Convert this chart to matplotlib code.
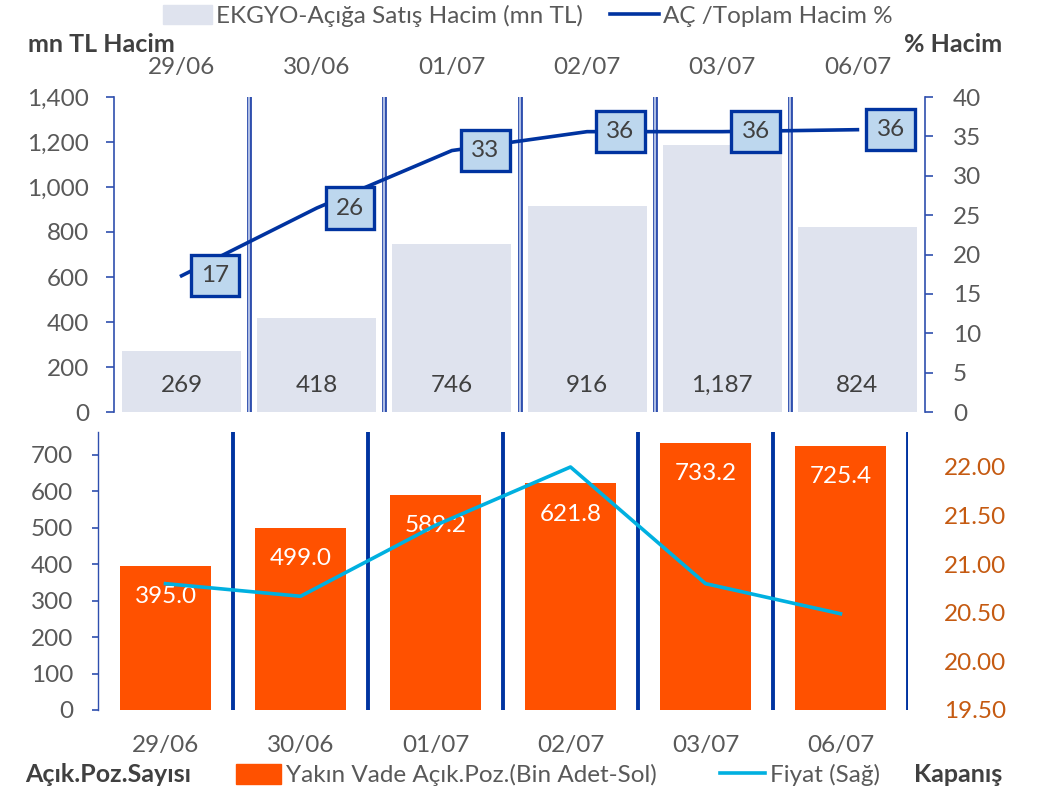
import matplotlib
matplotlib.use("Agg")
import matplotlib.pyplot as plt
import matplotlib.transforms as mtransforms
from matplotlib.patches import Patch
from matplotlib.lines import Line2D
import numpy as np

plt.rcParams['font.family'] = ['Lato', 'DejaVu Sans']

# data
dates = ["29/06", "30/06", "01/07", "02/07", "03/07", "06/07"]
short_volume = [269, 418, 746, 916, 1187, 824]          # mn TL
short_pct = [17.3, 25.9, 33.2, 35.6, 35.6, 35.85]       # % of total volume
open_pos = [395.0, 499.0, 589.2, 621.8, 733.2, 725.4]   # bin adet
price = [20.80, 20.67, 21.40, 22.00, 20.80, 20.49]      # closing price

GRAY = "#595959"
DARK = "#404040"
NAVY = "#0033a0"
SEP = "#2f4fae"
LAV = "#dfe3ee"
ORANGE = "#ff5100"
CYAN = "#00b0e0"
BROWN = "#c55a11"
FS = 17.5

W, H = 1039, 794
fig = plt.figure(figsize=(W / 100, H / 100), dpi=100)


def box(l, t, r, b):
    return [l / W, 1 - b / H, (r - l) / W, (b - t) / H]


x = np.arange(len(dates))

# ---------------- top panel ----------------
ax1 = fig.add_axes(box(114, 97, 925, 412))
ax1.bar(x, short_volume, width=0.88, color=LAV, zorder=1)
ax1.set_xlim(-0.5, len(dates) - 0.5)
ax1.set_ylim(0, 1400)
ax1.set_yticks(range(0, 1401, 200))
ax1.set_yticklabels([f"{v:,}" for v in range(0, 1401, 200)])
ax1.xaxis.tick_top()
ax1.set_xticks(x)
ax1.set_xticklabels(dates)
ax1.tick_params(axis='x', length=0, pad=14, labelsize=FS, colors=GRAY)
ax1.tick_params(axis='y', length=6, width=1.2, color=SEP, pad=12,
                labelsize=FS, labelcolor=GRAY, direction='out')
for s in ['top', 'bottom', 'right']:
    ax1.spines[s].set_visible(False)
ax1.spines['left'].set_color(SEP)
ax1.spines['left'].set_linewidth(1.2)

lbl_tr = mtransforms.blended_transform_factory(ax1.transData, ax1.transAxes)
for xi, v in zip(x, short_volume):
    ax1.text(xi, 0.085, f"{v:,}", transform=lbl_tr, ha='center', va='center',
             fontsize=FS, color=DARK, zorder=5)

for xs in np.arange(0.5, len(dates) - 0.5, 1):
    ax1.axvline(xs, color=SEP, lw=3.5, zorder=2)
    ax1.axvline(xs, color="#c8d4f0", lw=1.2, zorder=2)

ax1b = ax1.twinx()
ax1b.plot(x, short_pct, color=NAVY, lw=2.6, zorder=3)
ax1b.set_ylim(0, 40)
ax1b.set_yticks(range(0, 41, 5))
ax1b.tick_params(axis='y', length=6, width=1.2, color=SEP, pad=14,
                 labelsize=FS, labelcolor=GRAY, direction='out')
for s in ['top', 'bottom', 'left']:
    ax1b.spines[s].set_visible(False)
ax1b.spines['right'].set_color(SEP)
ax1b.spines['right'].set_linewidth(1.2)
for xi, v in zip(x, short_pct):
    ax1b.annotate(f"{v:.0f}", (xi, v), xytext=(24, 0), textcoords='offset points',
                  ha='center', va='center', fontsize=FS, color=DARK, zorder=6,
                  bbox=dict(boxstyle='square,pad=0.42', fc="#bdd7ee", ec=NAVY, lw=2.4))

# ---------------- bottom panel ----------------
ax2 = fig.add_axes(box(98, 432, 908, 710))
ax2.bar(x, open_pos, width=0.67, color=ORANGE, zorder=1)
ax2.set_xlim(-0.5, len(dates) - 0.5)
ax2.set_ylim(0, 763)
ax2.set_yticks(range(0, 701, 100))
ax2.set_xticks(x)
ax2.set_xticklabels(dates)
ax2.tick_params(axis='x', length=0, pad=18, labelsize=FS, colors=GRAY)
ax2.tick_params(axis='y', length=4, width=1.2, color=SEP, pad=14,
                labelsize=FS, labelcolor=GRAY)
for s in ['top', 'bottom', 'right']:
    ax2.spines[s].set_visible(False)
ax2.spines['left'].set_color(SEP)
ax2.spines['left'].set_linewidth(1.0)
for xs in np.arange(0.5, len(dates) + 0.5, 1):
    ax2.axvline(xs, color=NAVY, lw=2.8, zorder=2)
for xi, v in zip(x, open_pos):
    ax2.annotate(f"{v:.1f}", (xi, v), xytext=(0, -22), textcoords='offset points',
                 ha='center', va='center', fontsize=FS, color='white', zorder=5)

ax2b = ax2.twinx()
ax2b.plot(x, price, color=CYAN, lw=2.6, zorder=3)
ax2b.set_ylim(19.5, 22.36)
ax2b.set_yticks(np.arange(19.5, 22.01, 0.5))
ax2b.set_yticklabels([f"{v:.2f}" for v in np.arange(19.5, 22.01, 0.5)])
ax2b.tick_params(axis='y', length=0, pad=26, labelsize=FS, labelcolor=BROWN)
for s in ax2b.spines.values():
    s.set_visible(False)

# ---------------- legends and titles ----------------
fig.text(28 / W, 1 - 45 / H, "mn TL Hacim", fontsize=18, fontweight='bold',
         color=DARK, va='center')
fig.text(1002 / W, 1 - 45 / H, "% Hacim", fontsize=18, fontweight='bold',
         color=DARK, va='center', ha='right')
fig.legend([Patch(color=LAV), Line2D([], [], color=NAVY, lw=2.6)],
           ["EKGYO-Açığa Satış Hacim (mn TL)", "AÇ /Toplam Hacim %"],
           loc='center', bbox_to_anchor=(528 / W, 1 - 16 / H), ncol=2,
           frameon=False, fontsize=FS, labelcolor=GRAY, handlelength=2.0,
           handletextpad=0.2, columnspacing=1.1, handleheight=0.8)

fig.text(25 / W, 1 - 775 / H, "Açık.Poz.Sayısı", fontsize=18, fontweight='bold',
         color=DARK, va='center')
fig.text(1002 / W, 1 - 775 / H, "Kapanış", fontsize=18, fontweight='bold',
         color=DARK, va='center', ha='right')
fig.legend([Patch(color=ORANGE), Line2D([], [], color=CYAN, lw=2.6)],
           ["Yakın Vade Açık.Poz.(Bin Adet-Sol)", "Fiyat (Sağ)"],
           loc='center', bbox_to_anchor=(558 / W, 1 - 775 / H), ncol=2,
           frameon=False, fontsize=FS, labelcolor=GRAY, handlelength=1.85,
           handletextpad=0.2, columnspacing=2.6, handleheight=0.9)

fig.savefig("out.png", dpi=100)
